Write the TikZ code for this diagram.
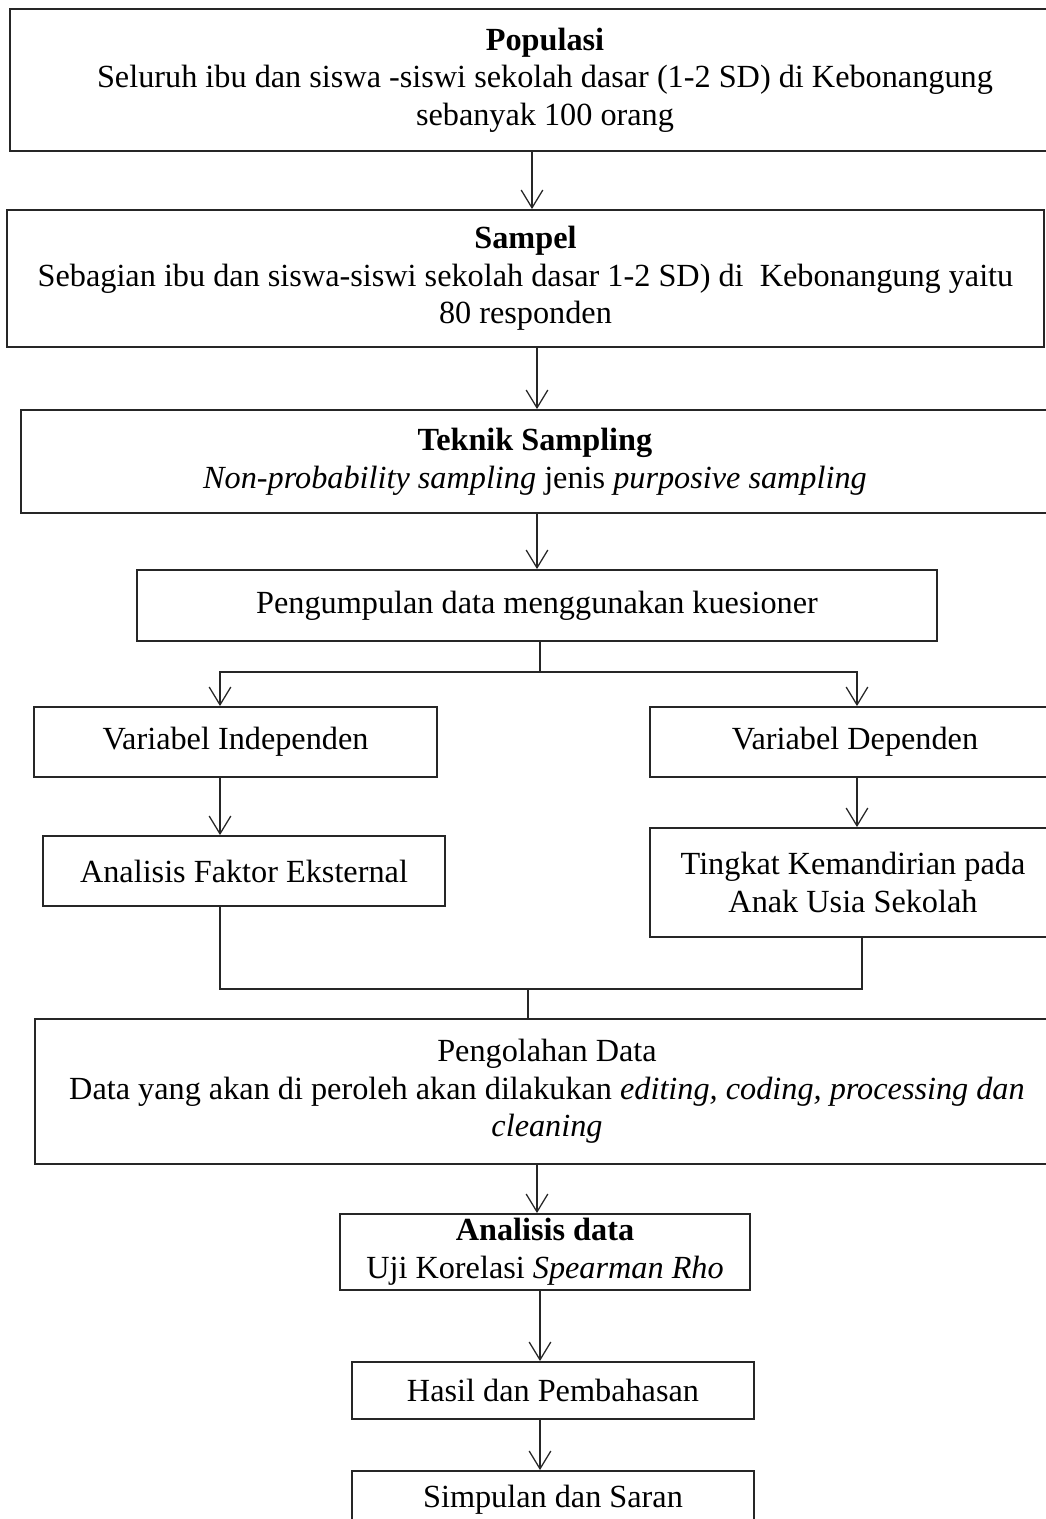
\documentclass[tikz,border=0pt]{standalone}
\usepackage{fontspec}
\setmainfont{Liberation Serif}
\usetikzlibrary{arrows.meta}
\tikzset{
  box/.style={draw=black!85, line width=0.75pt, inner sep=0pt, align=center,
    font=\fontsize{12.7}{14.8}\selectfont},
  arr/.style={draw=black!85, line width=0.5pt, -{Straight Barb[length=7pt,width=8.5pt,line width=0.5pt]}},
  ln/.style={draw=black!85, line width=0.5pt}
}
\newcommand\pbox[6]{\node[box, minimum width={(#4-#2)*0.3937pt}, minimum height={(#5-#3)*0.3937pt}] (#1) at ({(#2+#4)/2},{(#3+#5)/2}) {#6};}
\begin{document}
\begin{tikzpicture}[x=0.3937pt,y=-0.3937pt]
\useasboundingbox (0,0) rectangle (1046,1519);
\clip (0,0) rectangle (1046,1519);
\pbox{pop}{10}{9}{1080}{151}{\textbf{Populasi}\\ Seluruh ibu dan siswa -siswi sekolah dasar (1-2 SD) di Kebonangung\\ sebanyak 100 orang}
\pbox{samp}{7}{210}{1044}{347}{\textbf{Sampel}\\ Sebagian ibu dan siswa-siswi sekolah dasar 1-2 SD) di\ \ Kebonangung yaitu\\ 80 responden}
\pbox{tek}{21}{410}{1049}{513}{\textbf{Teknik Sampling}\\ \textit{Non-probability sampling} jenis \textit{purposive sampling}}
\pbox{kum}{137}{570}{937}{641}{Pengumpulan data menggunakan kuesioner}
\pbox{vind}{34}{707}{437}{777}{Variabel Independen}
\pbox{vdep}{650}{707}{1060}{777}{Variabel Dependen}
\pbox{afe}{43}{836}{445}{906}{Analisis Faktor Eksternal}
\pbox{tkm}{650}{828}{1056}{937}{Tingkat Kemandirian pada\\ Anak Usia Sekolah}
\pbox{olah}{35}{1019}{1059}{1164}{Pengolahan Data\\ Data yang akan di peroleh akan dilakukan \textit{editing, coding, processing dan}\\ \textit{cleaning}}
\pbox{anal}{340}{1214}{750}{1290}{\textbf{Analisis data}\\ Uji Korelasi \textit{Spearman Rho}}
\pbox{hasil}{352}{1362}{754}{1419}{Hasil dan Pembahasan}
\pbox{simp}{352}{1471}{754}{1529}{Simpulan dan Saran}
% connectors
\draw[arr] (pop.south -| 532,0) -- (samp.north -| 532,0);
\draw[arr] (samp.south -| 537,0) -- (tek.north -| 537,0);
\draw[arr] (tek.south -| 537,0) -- (kum.north -| 537,0);
\coordinate (j1) at (540,672);
\draw[ln] (kum.south -| j1) -- (j1);
\draw[arr] (j1) -| (vind.north -| 220,0);
\draw[arr] (j1) -| (vdep.north -| 857,0);
\draw[arr] (vind.south -| 220,0) -- (afe.north -| 220,0);
\draw[arr] (vdep.south -| 857,0) -- (tkm.north -| 857,0);
\coordinate (j2) at (528,989);
\draw[ln] (afe.south -| 220,0) |- (j2);
\draw[ln] (tkm.south -| 862,0) |- (j2);
\draw[ln] (j2) -- (olah.north -| j2);
\draw[arr] (olah.south -| 537,0) -- (anal.north -| 537,0);
\draw[arr] (anal.south -| 540,0) -- (hasil.north -| 540,0);
\draw[arr] (hasil.south -| 540,0) -- (simp.north -| 540,0);
\end{tikzpicture}
\end{document}
